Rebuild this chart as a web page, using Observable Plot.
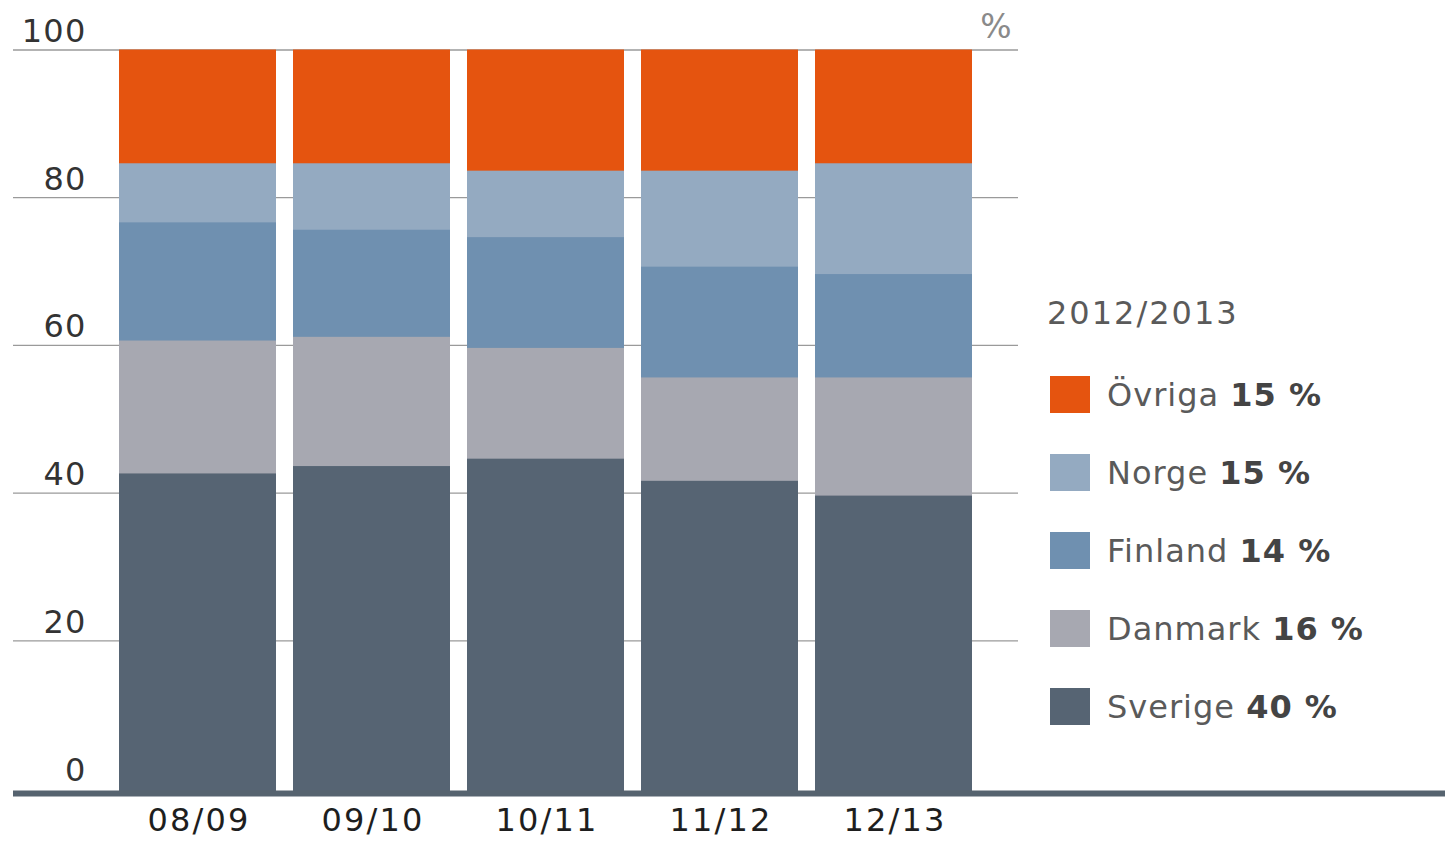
<!DOCTYPE html>
<html>
<head>
<meta charset="utf-8">
<script src="https://cdn.jsdelivr.net/npm/d3@7"></script>
<script src="https://cdn.jsdelivr.net/npm/@observablehq/plot@0.6"></script>
<style>
  html, body { margin: 0; padding: 0; background: #fff; }
  body { position: relative; width: 1445px; height: 842px; overflow: hidden; font-family: "DejaVu Sans", sans-serif; }
  #chart svg { display: block; }
  #chart svg text.ytick { letter-spacing: 1.2px; }
  #chart svg text.xtick { letter-spacing: 2.2px; }
  #legend { position: absolute; left: 0; top: 0; }
  .lg-title { position: absolute; left: 1047px; top: 293px; font-size: 32px; color: #5a5a5a; white-space: nowrap; line-height: 40px; letter-spacing: 2px; }
  .lg-sw { position: absolute; left: 1050px; width: 40px; height: 37px; }
  .lg-txt { position: absolute; left: 1107px; font-size: 32px; color: #5a5a5a; white-space: nowrap; line-height: 40px; letter-spacing: 1px; }
  .lg-txt b { color: #444; }
</style>
</head>
<body>
<div id="chart"></div>
<div id="legend"></div>
<script>
// ---- data ----
const years = ["08/09", "09/10", "10/11", "11/12", "12/13"];
const countries = ["Sverige", "Danmark", "Finland", "Norge", "Övriga"]; // bottom to top
const sverige = [43, 44, 45, 42, 40];
const danmark = [18, 17.5, 15, 14, 16];
const finland = [16, 14.5, 15, 15, 14];
const norge = [8, 9, 9, 13, 15];
const ovriga = [15, 15, 16, 16, 15];
const colors = ["#566473", "#a7a8b1", "#6f90b0", "#94aac1", "#e5540f"];
const yTicks = [0, 20, 40, 60, 80, 100];
const legendTitle = "2012/2013";
const unitLabel = "%";

const series = [sverige, danmark, finland, norge, ovriga];
const rows = [];
countries.forEach((c, ci) => years.forEach((y, yi) => rows.push({year: y, country: c, value: series[ci][yi]})));

const W = 1445, H = 842;
const chart = Plot.plot({
  width: W,
  height: H,
  marginLeft: 13,
  marginRight: W - 1018,
  marginTop: 49.5,
  marginBottom: 54,
  style: {fontFamily: "DejaVu Sans, sans-serif", background: "#fff", overflow: "visible"},
  x: {type: "band", domain: years, range: [117, 974], paddingInner: 0.1, paddingOuter: 0, axis: null},
  y: {domain: [0, 100], axis: null},
  color: {domain: countries, range: colors},
  marks: [
    Plot.ruleY(yTicks.filter(d => d > 0), {stroke: "#9a9a9a", strokeWidth: 1.3}),
    Plot.barY(rows, {x: "year", y: "value", fill: "country", order: countries, insetBottom: -3}),
    Plot.ruleY([0], {stroke: "#56636f", strokeWidth: 6, dy: 5, insetRight: -(W - 1018)}),
    Plot.text(yTicks, {y: d => d, text: d => String(d), frameAnchor: "left", dx: 73, dy: -8, textAnchor: "end", lineAnchor: "bottom", fontSize: 32, fill: "#333"}),
    Plot.text(years, {x: d => d, y: 0, text: d => d, dy: 20, dx: 1, lineAnchor: "top", fontSize: 32, fill: "#1e1e1e"}),
    Plot.text([unitLabel], {frameAnchor: "top-right", text: d => d, dx: -7, dy: -12, textAnchor: "end", lineAnchor: "bottom", fontSize: 33, fill: "#8a8a8a"})
  ]
});
document.getElementById("chart").appendChild(chart);
// tag the tick label groups for letter spacing
const textGroups = chart.querySelectorAll("g[aria-label='text']");
if (textGroups[0]) textGroups[0].querySelectorAll("text").forEach(n => n.classList.add("ytick"));
if (textGroups[1]) textGroups[1].querySelectorAll("text").forEach(n => n.classList.add("xtick"));

// ---- legend (latest year) ----
const legend = document.getElementById("legend");
const t = document.createElement("div");
t.className = "lg-title";
t.textContent = legendTitle;
legend.appendChild(t);
const last = years.length - 1;
const order = [4, 3, 2, 1, 0];
order.forEach((ci, i) => {
  const top = 376 + i * 78;
  const sw = document.createElement("div");
  sw.className = "lg-sw";
  sw.style.top = top + "px";
  sw.style.background = colors[ci];
  legend.appendChild(sw);
  const tx = document.createElement("div");
  tx.className = "lg-txt";
  tx.style.top = (top - 1) + "px";
  tx.innerHTML = countries[ci] + " <b>" + series[ci][last] + " %</b>";
  legend.appendChild(tx);
});
</script>
</body>
</html>
